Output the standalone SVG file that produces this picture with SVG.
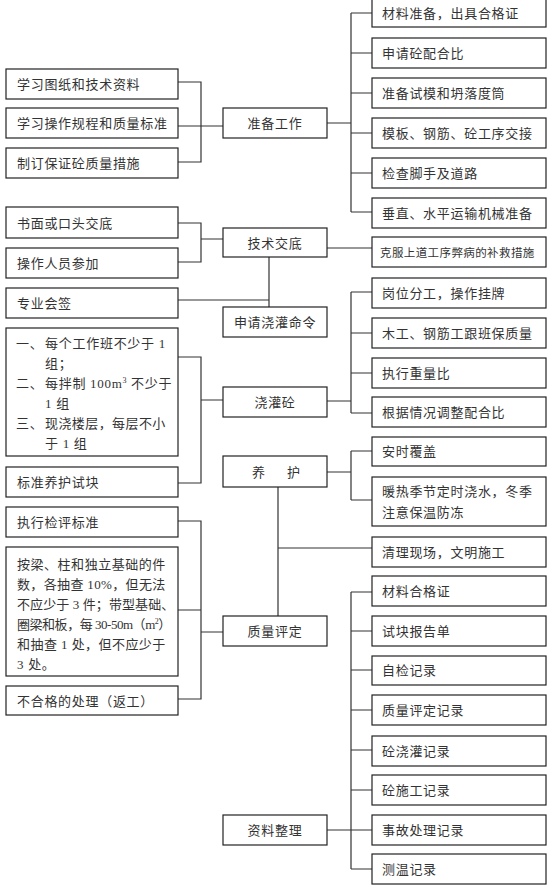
<svg xmlns="http://www.w3.org/2000/svg" width="553" height="893" viewBox="0 0 553 893">
<style>
.b{fill:#fff;stroke:#222;stroke-width:1.2}
.t{font-family:"Liberation Serif","Noto Sans CJK SC",serif;font-size:13px;fill:#333;letter-spacing:0.7px}
.c{text-anchor:middle}
.s{font-size:11.5px;letter-spacing:0.4px}
.k{fill:none;stroke:#333;stroke-width:1.2}
</style>
<rect width="553" height="893" fill="#fff"/>
<g id="connectors" class="k">
<path d="M178 82H201V162H178M178 126H223"/>
<path d="M327 123H351M351 13V212M351 13H372M351 53H372M351 93H372M351 133H372M351 173H372M351 212H372"/>
<path d="M178 223H201V262H178M201 239H223"/>
<path d="M327 248H372"/>
<path d="M269 257V307M178 300H269"/>
<path d="M178 357H201V483H178M201 400H223"/>
<path d="M327 401H351M351 292V413M351 292H372M351 333H372M351 373H372M351 413H372"/>
<path d="M327 472H351M351 451V500M351 451H372M351 500H372"/>
<path d="M278 487V616M278 548H372"/>
<path d="M178 521H201V699H178M178 610H201M201 632H223"/>
<path d="M327 830H351M351 592V869M351 592H372M351 631H372M351 670H372M351 710H372M351 750H372M351 790H372M351 830H372M351 869H372"/>
</g>
<g id="n-study-drawings"><rect class="b" x="6" y="69" width="172" height="30"/><text class="t" x="17" y="89">学习图纸和技术资料</text></g>
<g id="n-study-rules"><rect class="b" x="6" y="108" width="172" height="30"/><text class="t" x="17" y="128">学习操作规程和质量标准</text></g>
<g id="n-measures"><rect class="b" x="6" y="148" width="172" height="30"/><text class="t" x="17" y="168">制订保证砼质量措施</text></g>
<g id="n-prep"><rect class="b" x="223" y="108" width="104" height="30"/><text class="t c" x="275" y="128">准备工作</text></g>
<g id="n-material"><rect class="b" x="372" y="-3" width="174" height="30"/><text class="t" x="382" y="18">材料准备，出具合格证</text></g>
<g id="n-mix"><rect class="b" x="372" y="38" width="174" height="30"/><text class="t" x="382" y="58">申请砼配合比</text></g>
<g id="n-mould"><rect class="b" x="372" y="78" width="174" height="30"/><text class="t" x="382" y="98">准备试模和坍落度筒</text></g>
<g id="n-handover"><rect class="b" x="372" y="118" width="174" height="30"/><text class="t" x="382" y="138">模板、钢筋、砼工序交接</text></g>
<g id="n-scaffold"><rect class="b" x="372" y="158" width="174" height="30"/><text class="t" x="382" y="178">检查脚手及道路</text></g>
<g id="n-transport"><rect class="b" x="372" y="198" width="174" height="30"/><text class="t" x="382" y="218">垂直、水平运输机械准备</text></g>
<g id="n-written"><rect class="b" x="6" y="207" width="172" height="31"/><text class="t" x="17" y="227.5">书面或口头交底</text></g>
<g id="n-operators"><rect class="b" x="6" y="248" width="172" height="30"/><text class="t" x="17" y="268">操作人员参加</text></g>
<g id="n-signoff"><rect class="b" x="6" y="288" width="172" height="30"/><text class="t" x="17" y="308">专业会签</text></g>
<g id="n-tech"><rect class="b" x="223" y="228" width="104" height="29"/><text class="t c" x="275" y="247.5">技术交底</text></g>
<g id="n-remedy"><rect class="b" x="372" y="237" width="174" height="30"/><text class="t s" x="380" y="256.5">克服上道工序弊病的补救措施</text></g>
<g id="n-order"><rect class="b" x="223" y="307" width="104" height="30"/><text class="t c" x="275" y="327">申请浇灌命令</text></g>
<g id="n-samples"><rect class="b" x="6" y="328" width="172" height="128"/>
<text class="t" x="16" y="348">一、</text><text class="t" x="45" y="348" textLength="121" lengthAdjust="spacing">每个工作班不少于 1</text>
<text class="t" x="45" y="368">组；</text>
<text class="t" x="16" y="388">二、</text><text class="t" x="45" y="388">每拌制 100m<tspan dy="-5" font-size="8">3</tspan><tspan dy="5"> 不少于</tspan></text>
<text class="t" x="45" y="408">1 组</text>
<text class="t" x="16" y="428">三、</text><text class="t" x="45" y="428" textLength="121" lengthAdjust="spacing">现浇楼层，每层不小</text>
<text class="t" x="45" y="448">于 1 组</text></g>
<g id="n-curing-samples"><rect class="b" x="6" y="467" width="172" height="30"/><text class="t" x="17" y="487">标准养护试块</text></g>
<g id="n-pour"><rect class="b" x="223" y="387" width="104" height="30"/><text class="t c" x="275" y="407">浇灌砼</text></g>
<g id="n-posts"><rect class="b" x="372" y="278" width="174" height="30"/><text class="t" x="382" y="298">岗位分工，操作挂牌</text></g>
<g id="n-follow"><rect class="b" x="372" y="318" width="174" height="30"/><text class="t" x="382" y="338">木工、钢筋工跟班保质量</text></g>
<g id="n-weight"><rect class="b" x="372" y="358" width="174" height="30"/><text class="t" x="382" y="378">执行重量比</text></g>
<g id="n-adjust"><rect class="b" x="372" y="397" width="174" height="30"/><text class="t" x="382" y="417">根据情况调整配合比</text></g>
<g id="n-curing"><rect class="b" x="223" y="456" width="104" height="31"/><text class="t"><tspan x="252" y="476.5">养</tspan><tspan x="287" y="476.5">护</tspan></text></g>
<g id="n-cover"><rect class="b" x="372" y="437" width="174" height="29"/><text class="t" x="382" y="456">安时覆盖</text></g>
<g id="n-water"><rect class="b" x="372" y="477" width="174" height="49"/><text class="t" x="382" y="496">暖热季节定时浇水，冬季</text><text class="t" x="382" y="517">注意保温防冻</text></g>
<g id="n-cleanup"><rect class="b" x="372" y="537" width="174" height="30"/><text class="t" x="382" y="557">清理现场，文明施工</text></g>
<g id="n-standard"><rect class="b" x="6" y="507" width="172" height="30"/><text class="t" x="17" y="527">执行检评标准</text></g>
<g id="n-sampling"><rect class="b" x="6" y="547" width="172" height="129"/>
<text class="t" x="17" y="569" textLength="149" lengthAdjust="spacing">按梁、柱和独立基础的件</text>
<text class="t" x="17" y="589" textLength="149" lengthAdjust="spacing">数，各抽查 10%，但无法</text>
<text class="t" x="17" y="609" textLength="158" lengthAdjust="spacing">不应少于 3 件；带型基础、</text>
<text class="t" x="17" y="629" textLength="155" lengthAdjust="spacing">圈梁和板，每 30-50m（m<tspan dy="-5" font-size="8">2</tspan><tspan dy="5">）</tspan></text>
<text class="t" x="17" y="649" textLength="149" lengthAdjust="spacing">和抽查 1 处，但不应少于</text>
<text class="t" x="17" y="669">3 处。</text></g>
<g id="n-rework"><rect class="b" x="6" y="686" width="172" height="29"/><text class="t" x="17" y="705.5">不合格的处理（返工）</text></g>
<g id="n-quality"><rect class="b" x="223" y="616" width="104" height="30"/><text class="t c" x="275" y="636">质量评定</text></g>
<g id="n-docs"><rect class="b" x="223" y="815" width="104" height="30"/><text class="t c" x="275" y="835">资料整理</text></g>
<g id="n-cert"><rect class="b" x="372" y="576" width="174" height="30"/><text class="t" x="382" y="596">材料合格证</text></g>
<g id="n-report"><rect class="b" x="372" y="616" width="174" height="30"/><text class="t" x="382" y="636">试块报告单</text></g>
<g id="n-selfcheck"><rect class="b" x="372" y="656" width="174" height="29"/><text class="t" x="382" y="675">自检记录</text></g>
<g id="n-qrecord"><rect class="b" x="372" y="695" width="174" height="30"/><text class="t" x="382" y="715">质量评定记录</text></g>
<g id="n-pourrec"><rect class="b" x="372" y="736" width="174" height="30"/><text class="t" x="382" y="756">砼浇灌记录</text></g>
<g id="n-constrec"><rect class="b" x="372" y="775" width="174" height="30"/><text class="t" x="382" y="795">砼施工记录</text></g>
<g id="n-accident"><rect class="b" x="372" y="815" width="174" height="30"/><text class="t" x="382" y="835">事故处理记录</text></g>
<g id="n-temp"><rect class="b" x="372" y="854" width="174" height="30"/><text class="t" x="382" y="874">测温记录</text></g>
</svg>
